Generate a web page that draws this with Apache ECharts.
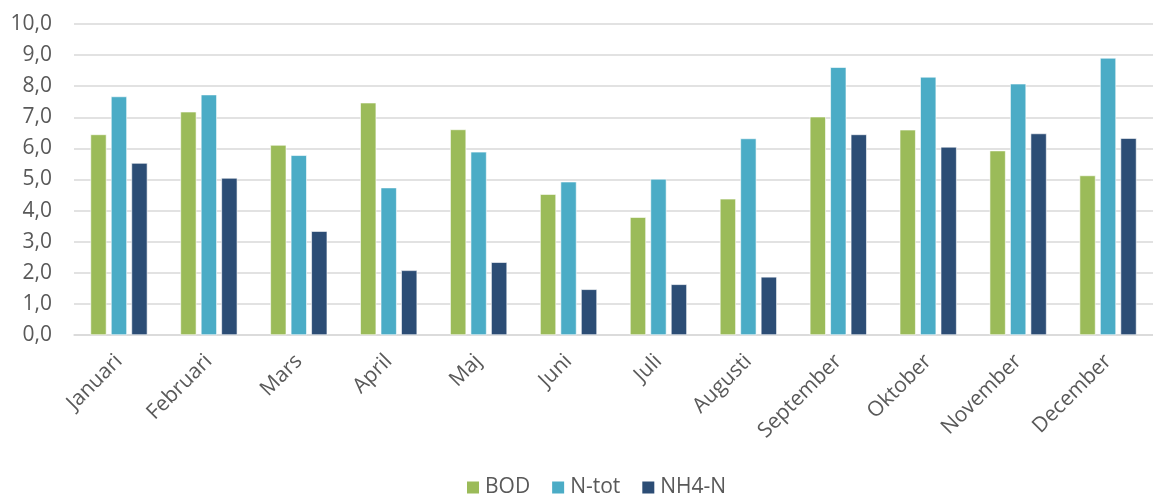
<!DOCTYPE html>
<html>
<head>
<meta charset="utf-8">
<script src="https://cdn.jsdelivr.net/npm/echarts@6/dist/echarts.min.js"></script>
<style>
  html, body { margin: 0; padding: 0; background: #fff; }
  #main { width: 1153px; height: 497px; }
</style>
</head>
<body>
<div id="main"></div>
<script>
var months = ['Januari', 'Februari', 'Mars', 'April', 'Maj', 'Juni', 'Juli', 'Augusti', 'September', 'Oktober', 'November', 'December'];
var bod = [6.45, 7.18, 6.11, 7.47, 6.61, 4.53, 3.79, 4.38, 7.02, 6.60, 5.93, 5.13];
var ntot = [7.67, 7.73, 5.78, 4.74, 5.89, 4.93, 5.02, 6.32, 8.61, 8.30, 8.08, 8.91];
var nh4 = [5.53, 5.05, 3.34, 2.08, 2.34, 1.47, 1.63, 1.87, 6.45, 6.05, 6.48, 6.33];

var myChart = echarts.init(document.getElementById('main'));
var font = '"Open Sans", sans-serif';

function bar(name, data, color) {
    return {
        name: name,
        type: 'bar',
        data: data,
        barWidth: 16,
        barGap: '28%',
        itemStyle: { color: color, borderColor: '#ffffff', borderWidth: 0.6 },
        animation: false
    };
}

var option = {
    backgroundColor: '#fff',
    textStyle: { fontFamily: font },
    grid: { left: 74, right: 0, top: 24, bottom: 162 },
    legend: {
        bottom: -1,
        left: 465,
        padding: 0,
        itemWidth: 14,
        itemHeight: 14,
        itemGap: 20,
        icon: 'rect',
        textStyle: { color: '#595959', fontSize: 21, fontFamily: font },
        data: ['BOD', 'N-tot', 'NH4-N']
    },
    xAxis: {
        type: 'category',
        data: months,
        axisLine: { lineStyle: { color: '#D9D9D9', width: 1.5 } },
        axisTick: { show: false },
        axisLabel: {
            rotate: 45, color: '#595959', fontSize: 21, fontFamily: font,
            margin: 23, interval: 0, padding: [16, 0, 0, 0]
        }
    },
    yAxis: {
        type: 'value',
        min: 0,
        max: 10,
        interval: 1,
        axisLine: { show: false },
        axisTick: { show: false },
        splitLine: { lineStyle: { color: '#D9D9D9', width: 1.5 } },
        axisLabel: {
            color: '#595959', fontSize: 21, fontFamily: font, margin: 22,
            formatter: function (v) { return v.toFixed(1).replace('.', ','); }
        }
    },
    series: [
        bar('BOD', bod, '#9BBB59'),
        bar('N-tot', ntot, '#4BACC6'),
        bar('NH4-N', nh4, '#2C4D75')
    ]
};
myChart.setOption(option);
</script>
</body>
</html>
